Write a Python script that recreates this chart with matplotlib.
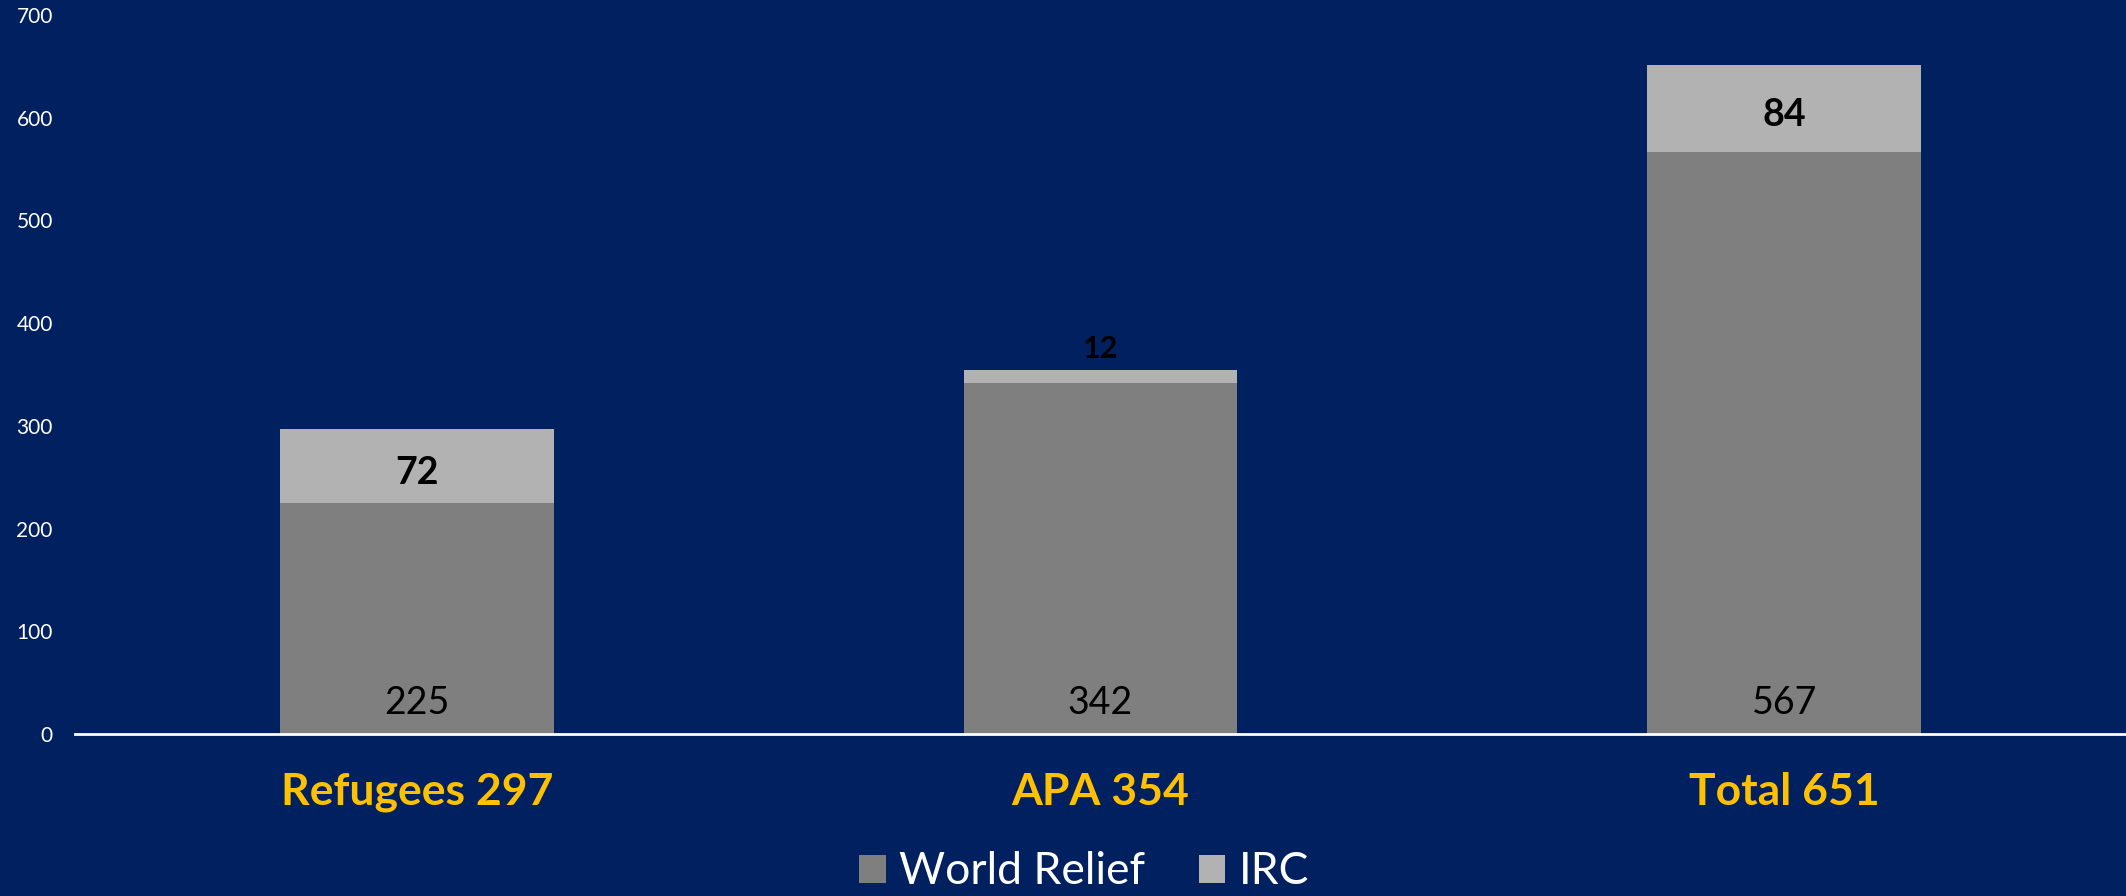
import matplotlib
matplotlib.use("Agg")
from matplotlib import pyplot as plt

categories = ["Refugees 297", "APA 354", "Total 651"]
world_relief = [225, 342, 567]
irc = [72, 12, 84]
y_ticks = [0, 100, 200, 300, 400, 500, 600, 700]

bg = "#002060"
dark_grey = "#7F7F7F"
light_grey = "#B2B2B2"

plt.rcParams["font.family"] = ["Lato", "DejaVu Sans"]

fig = plt.figure(figsize=(21.26, 8.96), dpi=100, facecolor=bg)
ax = fig.add_axes([0.0353, 0.1808, 0.9647, 0.8025], facecolor=bg)

x = list(range(len(categories)))
b1 = ax.bar(x, world_relief, width=0.4, color=dark_grey, label="World Relief", zorder=2)
b2 = ax.bar(x, irc, width=0.4, bottom=world_relief, color=light_grey, label="IRC", zorder=2)

# labels for the world relief part, near the bottom of the bar
for xi, v in zip(x, world_relief):
    ax.text(xi, 30, str(v), ha="center", va="center", fontsize=27, color="black")

# labels for IRC: inside the segment, or above it if it is too thin
for xi, base, v in zip(x, world_relief, irc):
    if v < 30:
        ax.annotate(str(v), (xi, base + v), xytext=(0, 5), textcoords="offset points",
                    ha="center", va="bottom", fontsize=22, fontweight="bold", color="black")
    else:
        ax.annotate(str(v), (xi, base + v / 2), xytext=(0, -5), textcoords="offset points",
                    ha="center", va="center", fontsize=27, fontweight="bold", color="black")

ax.set_xlim(-0.5, 2.5)
ax.set_ylim(0, 700)
ax.set_yticks(y_ticks)
ax.set_xticks(x)
ax.set_xticklabels(categories)

for s in ["top", "right", "left"]:
    ax.spines[s].set_visible(False)
ax.spines["bottom"].set_color("white")
ax.spines["bottom"].set_linewidth(2)

ax.tick_params(axis="y", length=0, pad=16, labelsize=15, labelcolor="white")
ax.tick_params(axis="x", length=0, pad=27, labelsize=32, labelcolor="#FFC000")
for lbl in ax.get_xticklabels():
    lbl.set_fontweight("bold")

fig.legend(handles=[b1, b2], loc="center", bbox_to_anchor=(0.51, 0.027), ncol=2,
           frameon=False, fontsize=32, labelcolor="white", handlelength=0.6,
           handleheight=0.6, handletextpad=0.3, columnspacing=1.2)

fig.savefig("out.png", dpi=100, facecolor=bg)
